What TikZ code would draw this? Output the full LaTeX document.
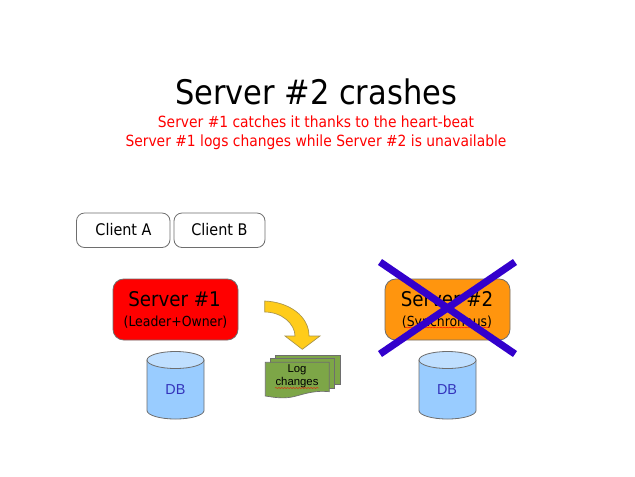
\documentclass[tikz,border=0pt]{standalone}
\usepackage{fontspec}
\setmainfont{DejaVu Sans Condensed}
\newfontfamily\arialf{Liberation Sans}
\usetikzlibrary{decorations.pathmorphing}
\definecolor{edgegray}{HTML}{6E6E6E}
\definecolor{dbblue}{HTML}{99CCFF}
\definecolor{dbtop}{HTML}{BFDFFF}
\definecolor{dbtext}{HTML}{3333BB}
\definecolor{crossblue}{HTML}{3300CC}
\definecolor{docgreen}{HTML}{7DA647}
\definecolor{arrowyellow}{HTML}{FFCC1A}
\definecolor{srvorange}{HTML}{FF950E}
\tikzset{
 x=0.75pt,y=-0.75pt,
 titletext/.style={font=\fontsize{25.4}{30}\selectfont,text=black,inner sep=0},
 subtext/.style={font=\fontsize{11.55}{14}\selectfont,text=red,inner sep=0},
 clientbox/.style={draw=edgegray,line width=0.6pt,rounded corners=6pt,fill=white},
 clienttext/.style={font=\fontsize{12}{14}\selectfont,inner sep=0},
 serverbox/.style={draw=edgegray,line width=0.6pt,rounded corners=8pt,inner sep=0},
 bigtext/.style={font=\fontsize{15.2}{18}\selectfont,inner sep=0},
 smalltext/.style={font=\fontsize{10.4}{12}\selectfont,inner sep=0},
 dbbody/.style={draw=edgegray,line width=0.6pt,fill=dbblue},
 dbcap/.style={draw=edgegray,line width=0.6pt,fill=dbtop},
 dblabel/.style={font=\arialf\fontsize{10.8}{12}\selectfont,text=dbtext,inner sep=0},
 sheet/.style={draw=edgegray,line width=0.5pt,fill=docgreen},
 doctext/.style={font=\arialf\fontsize{8.5}{10}\selectfont,inner sep=0,text=black},
 crossline/.style={draw=crossblue,line width=5.4pt},
 squiggle/.style={draw=red,line width=0.3pt,decorate,decoration={snake,amplitude=0.35pt,segment length=2.2pt}},
}
\begin{document}
\begin{tikzpicture}
\useasboundingbox (0,0) rectangle (635,476);
\fill[white] (0,0) rectangle (635,476);
\node[titletext] (title) at (316,91.5) {Server \#2 crashes};
\node[subtext] (sub1) at (316,122) {Server \#1 catches it thanks to the heart-beat};
\node[subtext] (sub2) at (316,142) {Server \#1 logs changes while Server \#2 is unavailable};
% clients
\draw[clientbox] (76.5,213) rectangle (170,247.5);
\node[clienttext] (clienta) at (123.5,230) {Client A};
\draw[clientbox] (174,213) rectangle (265,247.5);
\node[clienttext] (clientb) at (219.5,230) {Client B};
% server 1
\draw[serverbox,fill=red] (113,279) rectangle (238,340);
\node[bigtext] (s1) at (174.5,299) {Server \#1};
\node[smalltext] (s1b) at (175.5,322.5) {(Leader+Owner)};
% server 2
\draw[serverbox,fill=srvorange] (385,279) rectangle (510,340);
\node[bigtext] (s2) at (447,299) {Server \#2};
\node[smalltext] (s2b) at (447,322.5) {(Synchronous)};
\draw[squiggle] (405,327.5) -- (490,327.5);
% databases
\draw[dbbody] (147,360) -- (147,410.5) arc[start angle=180,end angle=0,x radius=28.5,y radius=8.5] -- (204,360) -- cycle;
\draw[dbcap] (175.5,360) ellipse[x radius=28.5,y radius=8.5];
\node[dblabel] (db1) at (175.5,389.5) {DB};
\draw[dbbody] (419,360) -- (419,410.5) arc[start angle=180,end angle=0,x radius=28.5,y radius=8.5] -- (476,360) -- cycle;
\draw[dbcap] (447.5,360) ellipse[x radius=28.5,y radius=8.5];
\node[dblabel] (db2) at (447,389.5) {DB};
% curved arrow
\draw[line width=0.5pt,draw=edgegray!60!arrowyellow,fill=arrowyellow]
  (264.7,301) .. controls (289,302) and (309,316) .. (309,336)
  -- (320,336) -- (302.3,349.3) -- (285,336) -- (295,336)
  .. controls (295,324) and (282,312) .. (264.7,312) -- cycle;
% log sheets
\draw[sheet] (275.7,355) rectangle (340,384);
\draw[sheet] (270.7,358.3) rectangle (334.7,388);
\draw[sheet] (265.3,362.3) -- (329.3,362.3) -- (329.3,391.7)
  .. controls (312,390) and (302,395) .. (292,397)
  .. controls (282,399) and (272,397) .. (265.3,396) -- cycle;
\node[doctext] (log) at (297,370) {Log};
\node[doctext] (chg) at (297,383) {changes};
\draw[squiggle] (275,388) -- (319,388);
% cross
\draw[crossline] (380,262) -- (515,354);
\draw[crossline] (515,262) -- (380,354);
\end{tikzpicture}
\end{document}
